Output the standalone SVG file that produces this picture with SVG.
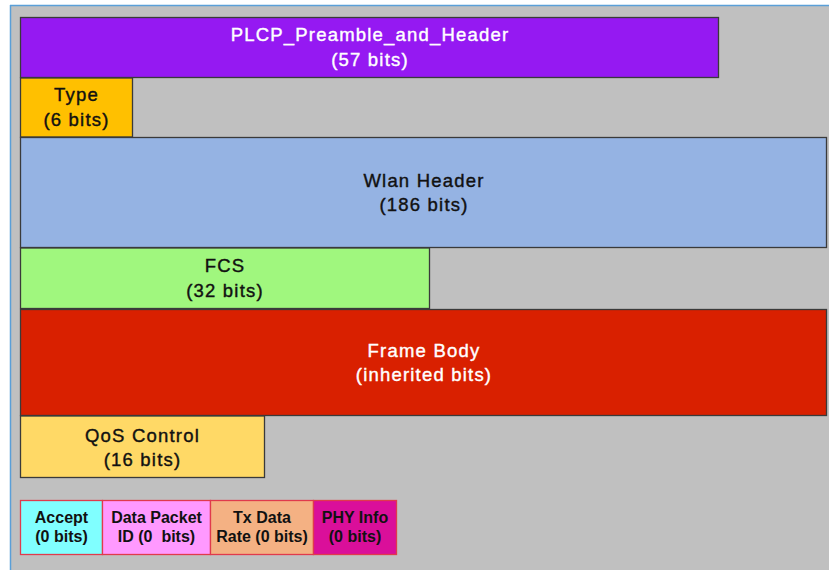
<svg xmlns="http://www.w3.org/2000/svg" width="829" height="570" viewBox="0 0 829 570">
  <style>
    .lbl { font-family: "Liberation Sans", Arial, sans-serif; font-size: 18.5px; letter-spacing: 1.2px; text-anchor: middle; fill: #111; stroke: #111; stroke-width: 0.4px; }
    .lbl.w { fill: #ffffff; stroke: #ffffff; }
    .blk { stroke: #3a3a3a; stroke-width: 1.3; }
    .sm { font-family: "Liberation Sans", Arial, sans-serif; font-size: 16px; font-weight: bold; text-anchor: middle; fill: #111; }
    .cell { stroke: #e03a4c; stroke-width: 1.3; }
  </style>

  <!-- canvas -->
  <rect x="0" y="0" width="829" height="570" fill="#ffffff"/>
  <rect x="10" y="5" width="819" height="565" fill="#c0c0c0"/>
  <line x1="10" y1="5.5" x2="829" y2="5.5" stroke="#5a9fd8" stroke-width="1.5"/>
  <line x1="10.5" y1="5" x2="10.5" y2="570" stroke="#5a9fd8" stroke-width="1.5"/>

  <g id="plcp">
    <rect class="blk" x="20.5" y="17.5" width="698" height="60" fill="#9519f2"/>
    <text class="lbl w" x="370" y="41" letter-spacing="1.6">PLCP_Preamble_and_Header</text>
    <text class="lbl w" x="370" y="66">(57 bits)</text>
  </g>

  <g id="type">
    <rect class="blk" x="20.5" y="78" width="112" height="59" fill="#ffc000"/>
    <text class="lbl" x="76.5" y="101">Type</text>
    <text class="lbl" x="76.5" y="125.5">(6 bits)</text>
  </g>

  <g id="wlan-header">
    <rect class="blk" x="20.5" y="137.5" width="806" height="110" fill="#95b3e3"/>
    <text class="lbl" x="424" y="186.5">Wlan Header</text>
    <text class="lbl" x="424" y="210.5">(186 bits)</text>
  </g>

  <g id="fcs">
    <rect class="blk" x="20.5" y="248" width="409" height="60.5" fill="#a0f77e"/>
    <text class="lbl" x="225" y="272">FCS</text>
    <text class="lbl" x="225" y="296.5">(32 bits)</text>
  </g>

  <g id="frame-body">
    <rect class="blk" x="20.5" y="309.5" width="806" height="106" fill="#d92000"/>
    <text class="lbl w" x="424" y="356.5">Frame Body</text>
    <text class="lbl w" x="424" y="381">(inherited bits)</text>
  </g>

  <g id="qos-control">
    <rect class="blk" x="20.5" y="416" width="244" height="61.5" fill="#ffd966"/>
    <text class="lbl" x="142.5" y="442">QoS Control</text>
    <text class="lbl" x="142.5" y="466">(16 bits)</text>
  </g>

  <g id="accept">
    <rect class="cell" x="20.5" y="500.5" width="82" height="54" fill="#80ffff"/>
    <text class="sm" x="61.5" y="523">Accept</text>
    <text class="sm" x="61.5" y="542">(0 bits)</text>
  </g>

  <g id="data-packet-id">
    <rect class="cell" x="102.5" y="500.5" width="108" height="54" fill="#ff99ff"/>
    <text class="sm" x="156.5" y="523">Data Packet</text>
    <text class="sm" x="156.5" y="542" xml:space="preserve">ID (0  bits)</text>
  </g>

  <g id="tx-data-rate">
    <rect class="cell" x="210.5" y="500.5" width="103" height="54" fill="#f4b183"/>
    <text class="sm" x="262" y="523">Tx Data</text>
    <text class="sm" x="262" y="542">Rate (0 bits)</text>
  </g>

  <g id="phy-info">
    <rect class="cell" x="313.5" y="500.5" width="83" height="54" fill="#da0f9a"/>
    <text class="sm" x="355" y="523">PHY Info</text>
    <text class="sm" x="355" y="542">(0 bits)</text>
  </g>
</svg>
